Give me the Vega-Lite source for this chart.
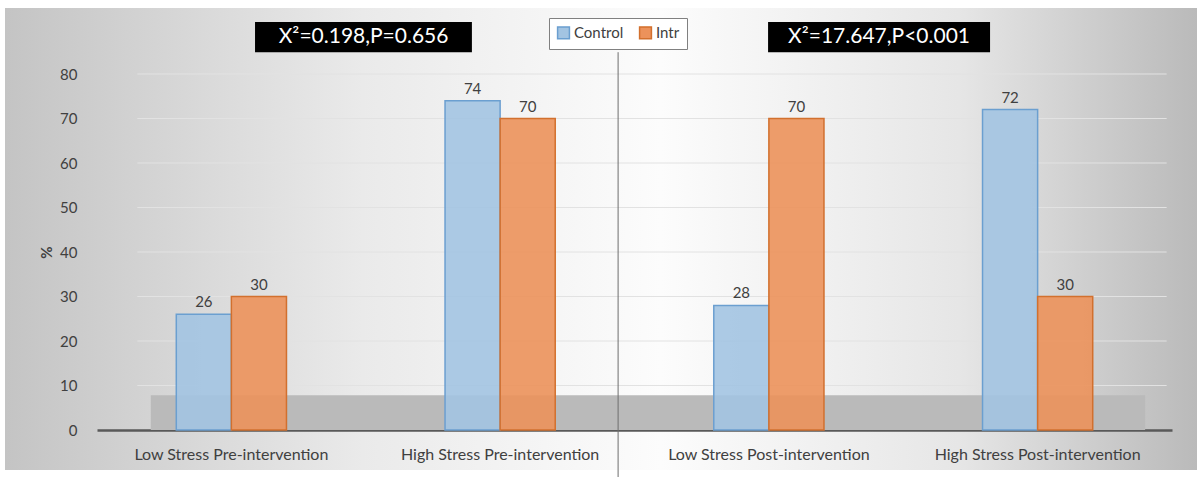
{
  "$schema": "https://vega.github.io/schema/vega-lite/v6.json",
  "width": 1192,
  "height": 462,
  "autosize": "none",
  "padding": {"left": 5, "top": 8, "right": 5, "bottom": 7},
  "background": "white",
  "datasets": {
    "bars": [
      {"cat": "Low Stress Pre-intervention", "group": "Control", "value": 26},
      {"cat": "Low Stress Pre-intervention", "group": "Intr", "value": 30},
      {"cat": "High Stress Pre-intervention", "group": "Control", "value": 74},
      {"cat": "High Stress Pre-intervention", "group": "Intr", "value": 70},
      {"cat": "Low Stress Post-intervention", "group": "Control", "value": 28},
      {"cat": "Low Stress Post-intervention", "group": "Intr", "value": 70},
      {"cat": "High Stress Post-intervention", "group": "Control", "value": 72},
      {"cat": "High Stress Post-intervention", "group": "Intr", "value": 30}
    ],
    "grid": [{"g": 10}, {"g": 20}, {"g": 30}, {"g": 40}, {"g": 50}, {"g": 60}, {"g": 70}, {"g": 80}],
    "one": [{"k": 1}]
  },
  "resolve": {"scale": {"x": "independent"}},
  "layer": [
    {
      "data": {"name": "one"},
      "mark": {"type": "rect", "color": "#bababa"},
      "encoding": {
        "x": {"datum": 0.2, "type": "quantitative", "scale": {"domain": [0, 4], "range": [92, 1167], "nice": false, "zero": false}, "axis": null},
        "x2": {"datum": 3.9},
        "y": {"datum": 0, "type": "quantitative", "scale": {"domain": [0, 80], "range": [422, 66], "nice": false}},
        "y2": {"datum": 7.8}
      }
    },
    {
      "data": {"name": "grid"},
      "mark": {"type": "rule", "color": "#e2e2e2", "strokeWidth": 1},
      "encoding": {
        "x": {"datum": 0.15, "type": "quantitative", "scale": {"domain": [0, 4], "range": [92, 1167], "nice": false, "zero": false}, "axis": null},
        "x2": {"datum": 3.98},
        "y": {"field": "g", "type": "quantitative", "scale": {"domain": [0, 80], "range": [422, 66], "nice": false}}
      }
    },
    {
      "data": {"name": "bars"},
      "mark": {"type": "bar", "fillOpacity": 0.9, "strokeWidth": 1.5},
      "encoding": {
        "x": {
          "field": "cat", "type": "nominal", "sort": null,
          "scale": {"domain": ["Low Stress Pre-intervention", "High Stress Pre-intervention", "Low Stress Post-intervention", "High Stress Post-intervention"], "range": [92, 1167], "paddingInner": 0.59, "paddingOuter": 0.295},
          "axis": {"title": null, "labelAngle": 0, "labelLimit": 400, "labelFont": "Lato", "labelFontSize": 16, "labelColor": "#404040", "domainColor": "#595959", "domainWidth": 2.5, "ticks": false, "labelPadding": 16, "offset": -40, "grid": false}
        },
        "xOffset": {"field": "group", "type": "nominal", "scale": {"domain": ["Control", "Intr"]}},
        "y": {
          "field": "value", "type": "quantitative",
          "scale": {"domain": [0, 80], "range": [422, 66], "nice": false},
          "axis": {"title": "%", "values": [0, 10, 20, 30, 40, 50, 60, 70, 80], "grid": false, "domain": false, "ticks": false, "offset": -87, "labelPadding": 15, "labelFont": "Lato", "labelFontSize": 15, "labelColor": "#404040", "titleFont": "Lato", "titleFontSize": 15, "titleFontWeight": "bold", "titleColor": "#404040", "titlePadding": 5}
        },
        "color": {
          "field": "group", "type": "nominal",
          "scale": {"domain": ["Control", "Intr"], "range": ["#a3c4e2", "#ec925b"]},
          "legend": {"title": null, "orient": "none", "legendX": 544, "legendY": 10, "direction": "horizontal", "symbolType": "square", "symbolSize": 140, "labelFont": "Lato", "labelFontSize": 15, "labelColor": "#404040", "padding": 7, "strokeColor": "#808080", "fillColor": "white", "columnPadding": 12, "labelOffset": 3}
        },
        "stroke": {
          "field": "group", "type": "nominal",
          "scale": {"domain": ["Control", "Intr"], "range": ["#6b9fd0", "#d2702e"]},
          "legend": null
        }
      }
    },
    {
      "data": {"name": "bars"},
      "mark": {"type": "text", "dy": -12, "font": "Lato", "fontSize": 15, "color": "#404040"},
      "encoding": {
        "x": {
          "field": "cat", "type": "nominal", "sort": null,
          "scale": {"domain": ["Low Stress Pre-intervention", "High Stress Pre-intervention", "Low Stress Post-intervention", "High Stress Post-intervention"], "range": [92, 1167], "paddingInner": 0.59, "paddingOuter": 0.295},
          "axis": null
        },
        "xOffset": {"field": "group", "type": "nominal", "scale": {"domain": ["Control", "Intr"]}},
        "y": {"field": "value", "type": "quantitative", "scale": {"domain": [0, 80], "range": [422, 66], "nice": false}},
        "text": {"field": "value", "type": "quantitative"}
      }
    },
    {
      "data": {"name": "one"},
      "mark": {"type": "rule", "color": "#6e6e6e", "strokeWidth": 1},
      "encoding": {
        "x": {"datum": 1.939, "type": "quantitative", "scale": {"domain": [0, 4], "range": [92, 1167], "nice": false, "zero": false}, "axis": null},
        "y": {"datum": 84.9, "type": "quantitative", "scale": {"domain": [0, 80], "range": [422, 66], "nice": false}},
        "y2": {"datum": -10.6}
      }
    },
    {
      "data": {"name": "one"},
      "mark": {"type": "rect", "color": "black"},
      "encoding": {
        "x": {"datum": 0.588, "type": "quantitative", "scale": {"domain": [0, 4], "range": [92, 1167], "nice": false, "zero": false}, "axis": null},
        "x2": {"datum": 1.395},
        "y": {"datum": 84.9, "type": "quantitative", "scale": {"domain": [0, 80], "range": [422, 66], "nice": false}},
        "y2": {"datum": 91.7}
      }
    },
    {
      "data": {"name": "one"},
      "mark": {"type": "text", "color": "white", "font": "Lato", "fontSize": 21, "baseline": "middle", "align": "center"},
      "encoding": {
        "x": {"datum": 0.992, "type": "quantitative", "scale": {"domain": [0, 4], "range": [92, 1167], "nice": false, "zero": false}, "axis": null},
        "y": {"datum": 88.3, "type": "quantitative", "scale": {"domain": [0, 80], "range": [422, 66], "nice": false}},
        "text": {"value": "X²=0.198,P=0.656"}
      }
    },
    {
      "data": {"name": "one"},
      "mark": {"type": "rect", "color": "black"},
      "encoding": {
        "x": {"datum": 2.497, "type": "quantitative", "scale": {"domain": [0, 4], "range": [92, 1167], "nice": false, "zero": false}, "axis": null},
        "x2": {"datum": 3.323},
        "y": {"datum": 84.9, "type": "quantitative", "scale": {"domain": [0, 80], "range": [422, 66], "nice": false}},
        "y2": {"datum": 91.7}
      }
    },
    {
      "data": {"name": "one"},
      "mark": {"type": "text", "color": "white", "font": "Lato", "fontSize": 21, "baseline": "middle", "align": "center"},
      "encoding": {
        "x": {"datum": 2.91, "type": "quantitative", "scale": {"domain": [0, 4], "range": [92, 1167], "nice": false, "zero": false}, "axis": null},
        "y": {"datum": 88.3, "type": "quantitative", "scale": {"domain": [0, 80], "range": [422, 66], "nice": false}},
        "text": {"value": "X²=17.647,P<0.001"}
      }
    }
  ],
  "config": {
    "view": {
      "stroke": null,
      "fill": {
        "gradient": "linear", "x1": 0, "y1": 0, "x2": 1, "y2": 0,
        "stops": [
          {"offset": 0, "color": "#c4c4c4"},
          {"offset": 0.3, "color": "#eaeaea"},
          {"offset": 0.55, "color": "#fcfcfc"},
          {"offset": 0.8, "color": "#e6e6e6"},
          {"offset": 1, "color": "#bababa"}
        ]
      }
    }
  }
}
